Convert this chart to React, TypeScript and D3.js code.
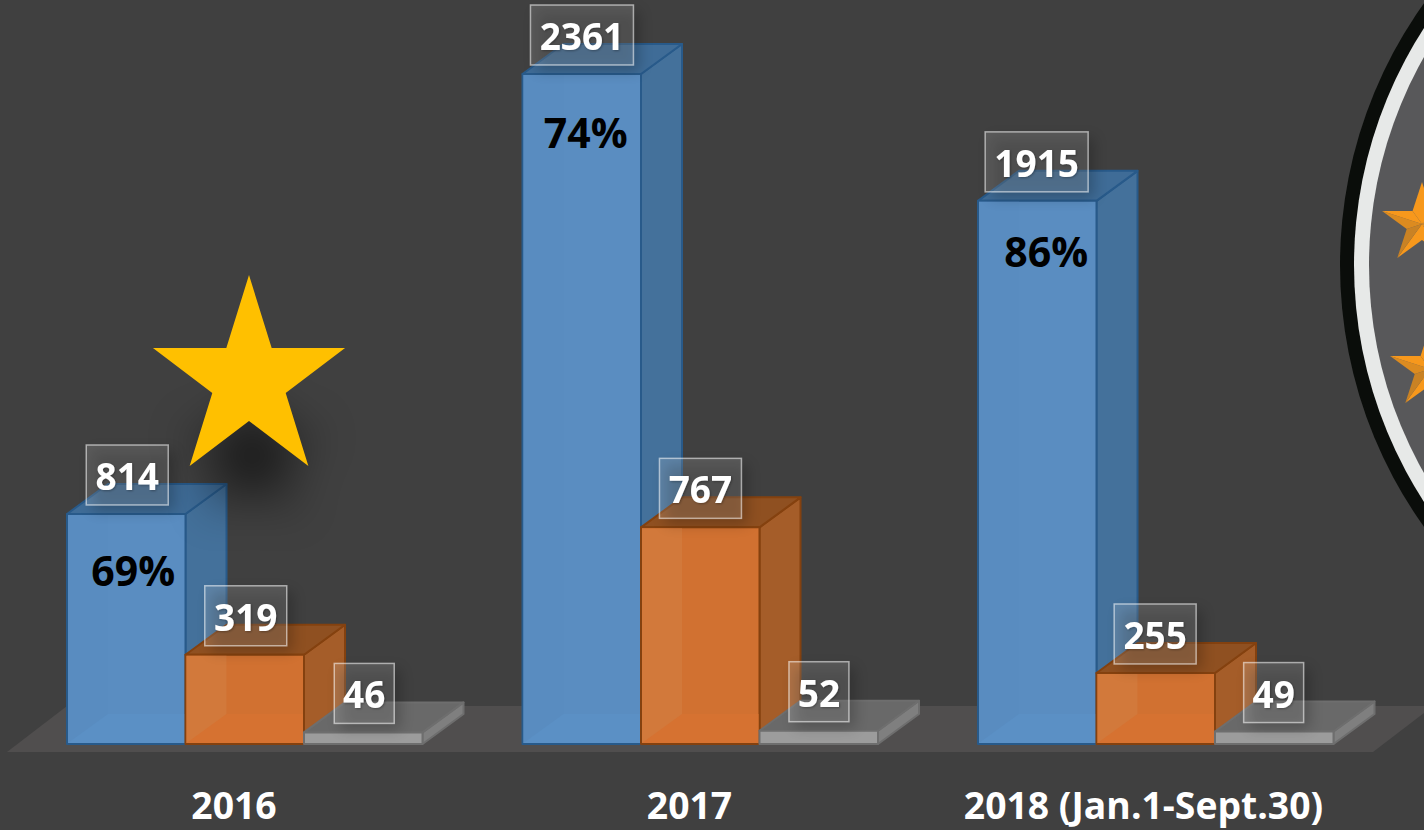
import React from "react";
import * as d3 from "d3";

const categories = ["2016", "2017", "2018 (Jan.1-Sept.30)"];
const seriesBlue = [814, 2361, 1915];
const seriesOrange = [319, 767, 255];
const seriesGray = [46, 52, 49];
const shareLabels = ["69%", "74%", "86%"];

const W = 1424, H = 830;
const FONT = "'Open Sans', sans-serif";
const DX = 41, DY = 30;
const BASE = 744;

const shareOffset = [{ x: 7, y: 72 }, { x: 4, y: 74 }, { x: 9, y: 66 }];
const yearOffset = [167, 167, 165.5];

const palette = [
  { front: "#5a8dc1", frontLeft: "#598cc0", bottom: "#5b90c5", side: "#44719b", top: "#3f6c97", stroke: "#285a8a" },
  { front: "#d17131", frontLeft: "#d2793b", bottom: "#d67231", side: "#a55d29", top: "#8f5021", stroke: "#84410f" },
  { front: "#9c9c9c", frontLeft: "#9f9f9f", bottom: "#9c9c9c", side: "#7f7f7f", top: "#696969", stroke: "#6e6e6e" },
];

const x0 = d3.scaleBand<string>().domain(categories).range([67, 67 + 455.5 * 3]).paddingInner(0).paddingOuter(0);
const x1 = d3.scaleBand<number>().domain([0, 1, 2]).range([0, 355.5]);
const y = d3.scaleLinear().domain([0, 2361]).range([745.5, 74]);

const pts = (a: number[][]) => a.map((p) => p.join(",")).join(" ");

function starPoints(cx: number, cy: number, R: number, sy = 1, r = R * 0.382) {
  const out: number[][] = [];
  for (let i = 0; i < 10; i++) {
    const a = -Math.PI / 2 + (i * Math.PI) / 5;
    const rad = i % 2 === 0 ? R : r;
    out.push([cx + rad * Math.cos(a), cy + rad * sy * Math.sin(a)]);
  }
  return out;
}

function Bar({ x, w, top, c }: { x: number; w: number; top: number; c: (typeof palette)[number] }) {
  const b = BASE;
  const hasBack = b - top > DY;
  return (
    <g strokeWidth={2} strokeLinejoin="round">
      <polygon points={pts([[x + w, b], [x + w + DX, b - DY], [x + w + DX, top - DY], [x + w, top]])} fill={c.side} stroke={c.stroke} />
      <polygon points={pts([[x, top], [x + DX, top - DY], [x + w + DX, top - DY], [x + w, top]])} fill={c.top} stroke={c.stroke} />
      <rect x={x} y={top} width={w} height={b - top} fill={c.front} stroke={c.stroke} />
      {hasBack && (
        <g stroke="none">
          <rect x={x + 1} y={top + 1} width={DX - 1} height={b - top - 2} fill={c.frontLeft} />
          <polygon points={pts([[x + 1, b - 1], [x + DX, b - DY], [x + w - 1, b - DY], [x + w - 1, b - 1]])} fill={c.bottom} />
        </g>
      )}
    </g>
  );
}

const facetFill: Record<number, string> = { 5: "#f7981c", 6: "#c98224", 7: "#dc8b20", 8: "#f7981c", 9: "#f7981c" };

function FacetStar({ cx, cy, R }: { cx: number; cy: number; R: number }) {
  const p = starPoints(cx, cy, R);
  return (
    <g>
      {p.map((q, i) => (
        <polygon key={i} points={pts([[cx, cy], q, p[(i + 1) % 10]])} fill={facetFill[i] ?? "#f7981c"} />
      ))}
    </g>
  );
}

export default function App() {
  const all = [seriesBlue, seriesOrange, seriesGray];
  const rows = categories.map((c, i) => ({ c, i, gx: x0(c) as number }));
  const bw = x1.bandwidth();
  const labelW = (v: number) => (String(v).length === 2 ? 60 : String(v).length === 3 ? 82 : 103);
  return (
    <svg width={W} height={H} viewBox={`0 0 ${W} ${H}`} style={{ position: "fixed", left: 0, top: 0, display: "block" }}>
      <defs>
        <filter id="boxShadow" x="-40%" y="-40%" width="200%" height="200%">
          <feGaussianBlur stdDeviation="7" />
        </filter>
        <filter id="starShadow" x="-80%" y="-80%" width="260%" height="260%">
          <feGaussianBlur stdDeviation="24" />
        </filter>
        <filter id="txt" x="-20%" y="-20%" width="140%" height="140%">
          <feDropShadow dx="1" dy="1" stdDeviation="1" floodColor="#000" floodOpacity="0.3" />
        </filter>
      </defs>
      <rect width={W} height={H} fill="#404040" />

      <polygon points={pts([[7, 752], [67, 706], [1433, 706], [1373, 752]])} fill="#504e4e" />

      {rows.map(({ c, i, gx }) => (
        <g key={c}>
          {all.map((s, k) => (
            <Bar key={k} x={gx + (x1(k) as number)} w={bw} top={y(s[i])} c={palette[k]} />
          ))}
        </g>
      ))}

      {rows.map(({ c, i, gx }) =>
        all.map((s, k) => {
          const cx = gx + (x1(k) as number) + bw / 2 + 1 - i * 0.8;
          const w = labelW(s[i]);
          const by = y(s[i]) - 69;
          return (
            <g key={c + k}>
              <rect x={cx - w / 2 + 6} y={by + 6} width={w} height={60} fill="#000" opacity={0.22} filter="url(#boxShadow)" />
              <rect x={cx - w / 2} y={by} width={w} height={60} fill="#fff" fillOpacity={0.14} stroke="#fff" strokeOpacity={0.55} strokeWidth={1.5} />
              <text x={cx} y={by + 45} textAnchor="middle" fill="#fff" fontFamily={FONT} fontWeight={700} fontSize={37} filter="url(#txt)">
                {s[i]}
              </text>
            </g>
          );
        })
      )}

      {rows.map(({ c, i, gx }) => (
        <text key={c} x={gx + bw / 2 + shareOffset[i].x} y={y(seriesBlue[i]) + shareOffset[i].y} textAnchor="middle" fill="#000" fontFamily={FONT} fontWeight={700} fontSize={41}>
          {shareLabels[i]}
        </text>
      ))}

      {rows.map(({ c, i, gx }) => (
        <text key={c} x={gx + yearOffset[i]} y={819} textAnchor="middle" fill="#fff" fontFamily={FONT} fontWeight={700} fontSize={37.3}>
          {c}
        </text>
      ))}

      <polygon points={pts(starPoints(252, 455, 72))} fill="#000" opacity={0.62} filter="url(#starShadow)" />
      <polygon points={pts(starPoints(249, 380.6, 101, 1.045))} fill="#ffc000" />

      <circle cx={1790} cy={265} r={450} fill="#0a0d0a" />
      <circle cx={1790} cy={265} r={436} fill="#e7e9e8" />
      <circle cx={1790} cy={265} r={421} fill="#58585a" />
      <FacetStar cx={1422} cy={224} R={42} />
      <FacetStar cx={1430} cy={369} R={42} />
    </svg>
  );
}
